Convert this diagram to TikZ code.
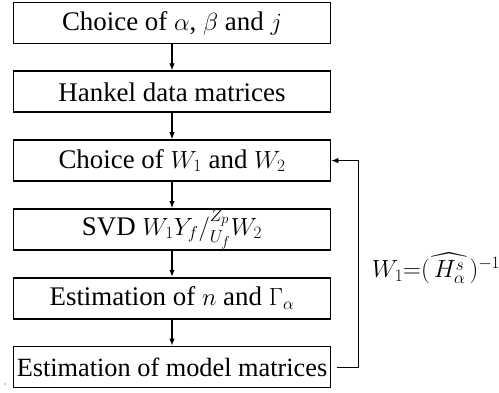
\documentclass[tikz,border=0pt]{standalone}
\usepackage{amsmath}
\usepackage{fontspec}
\setmainfont{Liberation Serif}
\usetikzlibrary{arrows.meta}
\begin{document}
\begin{tikzpicture}[x=1bp,y=-1bp,
  stagebox/.style={draw, line width=1.8bp, minimum width=317bp, minimum height=41bp,
    inner sep=0.5bp, font=\fontsize{27}{31}\selectfont},
  flow/.style={line width=1.1bp, -{Latex[length=7bp,width=5.5bp]}},
  loopback/.style={line width=0.9bp, -{Latex[length=7bp,width=5.5bp]}}]
\useasboundingbox (0,0) rectangle (499,392);

\node[stagebox] (b1) at (172,23.0)  {Choice of $\alpha$, $\beta$ and $j$};
\node[stagebox] (b2) at (172,91.8)  {Hankel data matrices};
\node[stagebox] (b3) at (172,160.6) {Choice of $W_1$ and $W_2$};
\node[stagebox] (b4) at (172,229.4) {SVD $W_1Y_f/^{Z_p}_{U_f}W_2$};
\node[stagebox] (b5) at (172,298.2) {Estimation of $n$ and $\Gamma_\alpha$};
\node[stagebox, font=\fontsize{26.4}{30}\selectfont] (b6) at (172,367.0)
  {Estimation of model matrices};

\foreach \a/\b in {b1/b2,b2/b3,b3/b4,b4/b5,b5/b6}
  \draw[flow] (\a.south) -- (\b.north);

% feedback path from the last stage back to the weighting choice
\coordinate (turn) at (358,367.0);
\draw[loopback] ([xshift=6bp]b6.east) -- (turn) |- (b3.east);

\node[font=\fontsize{24}{28}\selectfont, inner sep=0pt] (lbl) at (436,268)
  {$W_1{=}(\widehat{\,H^s_\alpha\,})^{-1}$};

\fill (5,384) circle (0.7bp);
\end{tikzpicture}
\end{document}
